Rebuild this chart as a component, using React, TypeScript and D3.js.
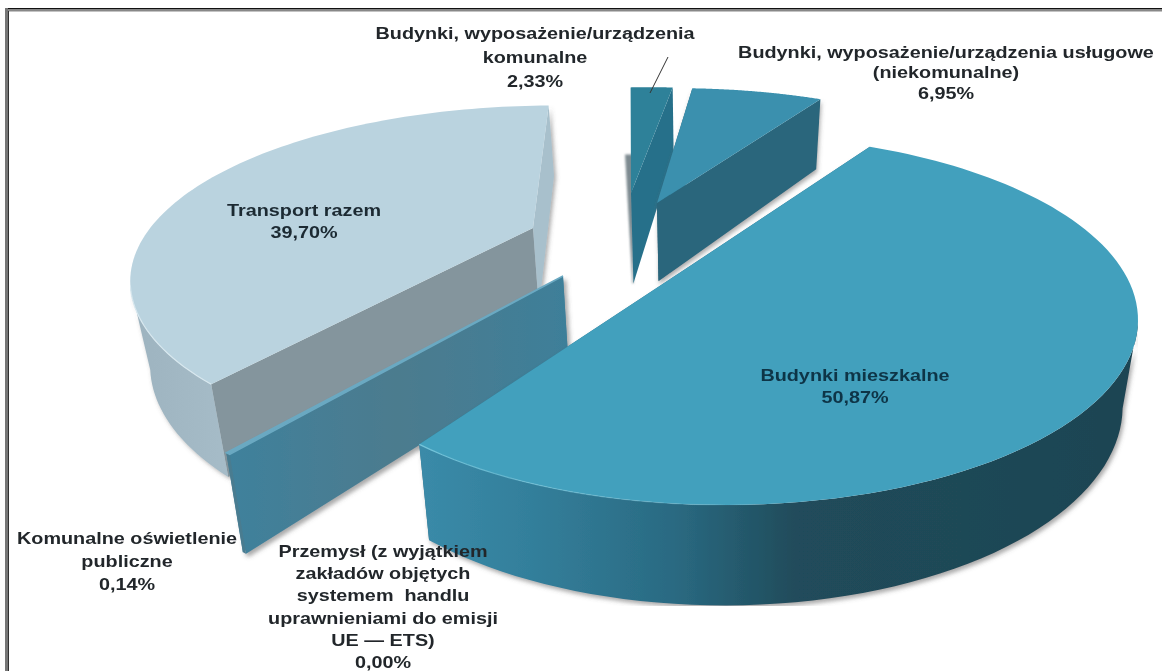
import React from 'react';
import * as d3 from 'd3';

const categories = [
  'Budynki mieszkalne',
  'Przemysł (z wyjątkiem zakładów objętych systemem handlu uprawnieniami do emisji UE — ETS)',
  'Komunalne oświetlenie publiczne',
  'Transport razem',
  'Budynki, wyposażenie/urządzenia komunalne',
  'Budynki, wyposażenie/urządzenia usługowe (niekomunalne)',
];
const values = [50.87, 0.0, 0.14, 39.7, 2.33, 6.95];

const labelLines = [
  ['Budynki mieszkalne', '50,87%'],
  ['Przemysł (z wyjątkiem', 'zakładów objętych', 'systemem  handlu', 'uprawnieniami do emisji', 'UE — ETS)', '0,00%'],
  ['Komunalne oświetlenie', 'publiczne', '0,14%'],
  ['Transport razem', '39,70%'],
  ['Budynki, wyposażenie/urządzenia', 'komunalne', '2,33%'],
  ['Budynki, wyposażenie/urządzenia usługowe', '(niekomunalne)', '6,95%'],
];
const labelPos: [number, number, number][] = [
  [855, 381, 22], [383, 557, 22.2], [127, 544, 23], [304, 216, 22.5], [535, 39, 24], [946, 58, 20.5],
];
const labelFill = ['#0f3447', '#22282c', '#22282c', '#1c2a33', '#22282c', '#22282c'];

// layout: rim origin and drawn apex of each exploded slice, rotation tweak, x/y scale, extrusion depth
const layout = [
  { ax: 705, ay: 264, px: 693, py: 264, turn: -0.7, sx: 1, sy: 1, d0: 62, d1: 0.076 },
  { ax: 0, ay: 0, px: 0, py: 0, turn: 0, sx: 0, sy: 0, d0: 0, d1: 0 },
  { ax: 563, ay: 276, px: 563, py: 276, turn: 0, sx: 1.15, sy: 1.0, d0: 39.6, d1: 0.132 },
  { ax: 535, ay: 228, px: 533, py: 228, turn: 4, sx: 1.03, sy: 0.95, d0: 62, d1: 0.08 },
  { ax: 630, ay: 193, px: 631, py: 193, turn: 1.6, sx: 0.95, sy: 0.82, d0: 48, d1: 0.22 },
  { ax: 657, ay: 203, px: 657, py: 203, turn: 0, sx: 0.97, sy: 0.89, d0: 62, d1: 0.08 },
];

const colors = [
  { top: '#42a0bd', rim: 'url(#rimMain)', edgeA: '#2f6f88', edgeB: '#2f6f88' },
  { top: 'none', rim: 'none', edgeA: 'none', edgeB: 'none' },
  { top: '#6ba9c2', rim: '#4a7c90', edgeA: 'url(#band)', edgeB: 'url(#band)' },
  { top: '#bad3df', rim: 'url(#rimTrans)', edgeA: '#84959d', edgeB: '#a8c0cc' },
  { top: '#2f8199', rim: '#276d85', edgeA: 'none', edgeB: '#27708a' },
  { top: '#3b90ae', rim: '#2a667c', edgeA: '#2a667c', edgeB: '#2a667c' },
];

// projection of the pie plane (unit disc) onto the screen ellipse
const E = { cx: 725, cy: 320, rx: 413, ry: 185 };
const w = { x: (705 - E.cx) / E.rx, y: (264 - E.cy) / E.ry };
const wLen = Math.hypot(w.x, w.y);
const s = Math.sqrt(1 - wLen * wLen);
const rimVec = (theta: number) => {
  const p = { x: Math.sin(theta), y: -Math.cos(theta) };
  const dot = (p.x * w.x + p.y * w.y) / wLen;
  const par = { x: (dot * w.x) / wLen, y: (dot * w.y) / wLen };
  const perp = { x: p.x - par.x, y: p.y - par.y };
  const den = 1 + p.x * w.x + p.y * w.y;
  const qx = (w.x + par.x + s * perp.x) / den;
  const qy = (w.y + par.y + s * perp.y) / den;
  return { x: (qx - w.x) * E.rx, y: (qy - w.y) * E.ry };
};
type Pt = { x: number; y: number };

const line = d3.line<Pt>().x((d) => d.x).y((d) => d.y);
const pie = d3.pie<number>().sort(null).startAngle((31.5 * Math.PI) / 180).endAngle(((31.5 + 360) * Math.PI) / 180);
const arcs = pie(values);

const shadowSpec = [
  { id: 'sh0', dx: 2, dy: 3 },
  { id: 'sh2', dx: 3, dy: 3 },
  { id: 'sh3', dx: 2, dy: 2 },
  { id: 'sh5', dx: 1, dy: 3 },
];
const shadowOf = ['sh0', '', 'sh2', 'sh3', '', 'sh5'];

function Slice({ i }: { i: number }) {
  const a = arcs[i];
  const l = layout[i];
  const c = colors[i];
  const drop = (p: Pt): Pt => ({ x: p.x + (700 - p.x) * 0.035, y: p.y + l.d0 + l.d1 * p.y });
  const t0 = a.startAngle + (l.turn * Math.PI) / 180;
  const t1 = a.endAngle + (l.turn * Math.PI) / 180;
  const thetas = d3.range(0, 101).map((k) => t0 + ((t1 - t0) * k) / 100);
  const rim: Pt[] = thetas.map((t) => {
    const v = rimVec(t);
    return { x: l.ax + v.x * l.sx, y: l.ay + v.y * l.sy };
  });
  const apex: Pt = { x: l.px, y: l.py };
  const front = rim.filter((p, k) => {
    const next = rim[k + 1] ?? p;
    const prev = rim[k - 1] ?? p;
    return next.x - prev.x < 0;
  });
  const first = rim[0];
  const last = rim[rim.length - 1];
  const quad = (p: Pt, q: Pt) => line([p, q, drop(q), drop(p)]) + 'Z';
  const rimWall = front.length
    ? line([...front, ...[...front].reverse().map(drop)]) + 'Z'
    : '';
  const db = drop(first);
  const da = drop(apex);
  return (
    <g>
      {i === 4 && (
        <path
          d={line([{ x: db.x - 8, y: db.y }, { x: da.x - 1, y: da.y }, da, db]) + 'Z'}
          fill="#7d8a90"
          filter="url(#strip)"
        />
      )}
      <g filter={shadowOf[i] ? `url(#${shadowOf[i]})` : undefined}>
        <path d={quad(apex, first)} fill={c.edgeA} />
        <path d={quad(apex, last)} fill={c.edgeB} />
        {rimWall && <path d={rimWall} fill={c.rim} />}
      </g>
      <path d={line([apex, ...rim]) + 'Z'} fill={c.top} stroke={i === 2 ? c.top : 'none'} strokeWidth={i === 2 ? 1.5 : 0} />
      {(i === 0 || i === 3) && front.length > 0 && (
        <path d={line(front) ?? ''} fill="none" stroke={i === 0 ? 'url(#hlMain)' : '#d8e8ef'} strokeWidth={1.2} />
      )}
    </g>
  );
}

export default function App() {
  const drawOrder = [3, 2, 4, 5, 0];
  return (
    <svg width={1162} height={671} style={{ position: 'absolute', left: 0, top: 0, background: '#fff' }} fontFamily="'Liberation Sans', Arial, sans-serif">
      <defs>
        <linearGradient id="rimMain" gradientUnits="userSpaceOnUse" x1={423} x2={1138} y1={0} y2={0}>
          <stop offset="0" stopColor="#3a8aa8" />
          <stop offset="0.15" stopColor="#337f9b" />
          <stop offset="0.35" stopColor="#2a6a82" />
          <stop offset="0.52" stopColor="#204c5b" />
          <stop offset="1" stopColor="#1e4452" />
        </linearGradient>
        <linearGradient id="hlMain" gradientUnits="userSpaceOnUse" x1={423} x2={760} y1={0} y2={0}>
          <stop offset="0" stopColor="#74c4da" />
          <stop offset="1" stopColor="#74c4da" stopOpacity={0} />
        </linearGradient>
        <linearGradient id="rimTrans" gradientUnits="userSpaceOnUse" x1={130} x2={230} y1={0} y2={0}>
          <stop offset="0" stopColor="#9db3bf" />
          <stop offset="1" stopColor="#a6bcc8" />
        </linearGradient>
        <linearGradient id="band" gradientUnits="userSpaceOnUse" x1={228} x2={565} y1={0} y2={0}>
          <stop offset="0" stopColor="#3f819c" />
          <stop offset="0.5" stopColor="#4c7b8e" />
          <stop offset="1" stopColor="#3e7f99" />
        </linearGradient>
        {shadowSpec.map((f) => (
          <filter key={f.id} id={f.id} x="-20%" y="-20%" width="140%" height="140%">
            <feDropShadow dx={f.dx} dy={f.dy} stdDeviation={2} floodColor="#555" floodOpacity={0.5} />
          </filter>
        ))}
        <filter id="soft" x="0" y="0" width="100%" height="100%">
          <feGaussianBlur stdDeviation={0.5} />
        </filter>
        <filter id="softText" x="0" y="0" width="100%" height="100%">
          <feGaussianBlur stdDeviation={0.55} />
        </filter>
        <filter id="strip" x="-100%" y="-20%" width="300%" height="140%">
          <feGaussianBlur stdDeviation={1.2} />
        </filter>
      </defs>
      <g filter="url(#soft)">
        {drawOrder.map((i) => (
          <Slice key={categories[i]} i={i} />
        ))}
        <line x1={668} y1={57} x2={650} y2={93} stroke="#333" strokeWidth={1} />
      </g>
      <g>
        <rect x={5} y={8} width={1157} height={1.5} fill="#111" />
        <rect x={7} y={9.5} width={1155} height={2} fill="#888" />
        <rect x={5} y={8} width={3} height={663} fill="#777" />
        <rect x={8} y={11} width={1} height={660} fill="#333" />
      </g>
      <g filter="url(#softText)" fontWeight="bold" fontSize={16.5} textAnchor="middle">
        {labelLines.map((lines, i) => (
          <text key={categories[i]} transform={`translate(${labelPos[i][0]},${labelPos[i][1]}) scale(1.2,1)`} fill={labelFill[i]}>
            {lines.map((t, k) => (
              <tspan key={k} x={0} dy={k === 0 ? 0 : labelPos[i][2]} xmlSpace="preserve">
                {t}
              </tspan>
            ))}
          </text>
        ))}
      </g>
    </svg>
  );
}
